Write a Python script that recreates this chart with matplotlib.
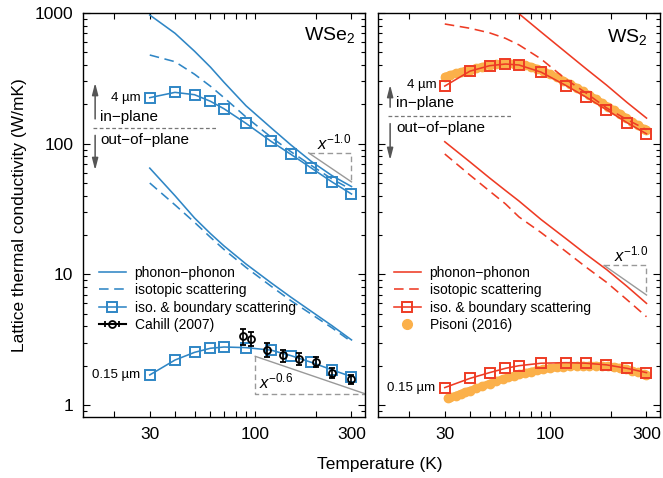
import matplotlib
matplotlib.use('Agg')
import matplotlib.pyplot as plt
import numpy as np

plt.rcParams['font.family'] = ['Liberation Sans', 'DejaVu Sans']
plt.rcParams['mathtext.fontset'] = 'custom'
plt.rcParams['mathtext.rm'] = 'Liberation Sans'
plt.rcParams['mathtext.it'] = 'Liberation Sans:italic'
plt.rcParams['axes.linewidth'] = 1.0

azul = '#2f86c5'
rojo = '#ee3b24'
naranja = '#fbb04a'
gris = '#555555'

# temperaturas de calculo (K)
T = [30, 40, 50, 60, 70, 90, 120, 150, 190, 240, 300]

# WSe2, kappa en W/mK
wse2_pp_4um = [965, 700, 510, 385, 295, 195, 132, 98, 73, 57, 47]
wse2_iso_4um = [477, 424, 340, 275, 225, 160, 112, 87, 68, 53.7, 44.5]
wse2_bnd_4um = [225, 247, 237, 211, 185, 143, 104, 83, 65, 51, 41.2]
wse2_pp_015 = [65, 40, 27, 20.5, 16.5, 12, 8.6, 6.7, 5.2, 4.05, 3.15]
wse2_iso_015 = [50, 34, 25, 19.2, 15.5, 11.3, 8.1, 6.3, 4.95, 3.9, 3.05]
wse2_bnd_015 = [1.70, 2.21, 2.53, 2.72, 2.78, 2.75, 2.63, 2.39, 2.12, 1.86, 1.65]

cahill_T = [87, 95, 114.5, 137.5, 165, 199, 239.5, 300]
cahill_k = [3.36, 3.21, 2.65, 2.40, 2.26, 2.14, 1.76, 1.57]
cahill_err = [0.48, 0.40, 0.33, 0.26, 0.24, 0.19, 0.16, 0.13]

# WS2
ws2_pp_4um = [2860, 1990, 1510, 1200, 987, 716, 498, 376, 281, 207, 157]
ws2_iso_4um = [824, 764, 705, 640, 570, 445, 310, 245, 188, 153, 128]
ws2_bnd_4um = [276, 359, 395, 407, 400, 353, 278, 228, 182, 145, 119]
ws2_pp_015 = [103.5, 72.5, 54.7, 43.8, 36.4, 26.3, 18.7, 14.3, 10.9, 8.1, 6.0]
ws2_iso_015 = [83.4, 57.5, 43.4, 34.6, 27.5, 20.9, 14.9, 11.4, 8.7, 6.4, 4.74]
ws2_bnd_015 = [1.36, 1.60, 1.77, 1.91, 2.00, 2.09, 2.11, 2.09, 2.03, 1.91, 1.77]

pisoni_T_a = [30, 32, 34, 36, 38, 40, 43, 46, 50, 54, 58, 62, 66, 70, 75, 80, 86, 92,
              100, 108, 116, 125, 135, 145, 156, 168, 180, 193, 207, 222, 238, 255, 272, 290, 300]
pisoni_k_a = [326, 336, 345, 353, 360, 366, 378, 388, 398, 405, 409, 411, 410, 406, 399, 389, 375, 360,
              340, 322, 304, 286, 268, 251, 235, 220, 205, 192, 180, 169, 157, 147, 138, 130, 127]
pisoni_T_b = [31, 32, 34, 36, 38, 40, 43, 46, 50, 54, 58, 62, 66, 70, 75, 80, 86, 92,
              100, 108, 116, 125, 135, 145, 156, 168, 180, 193, 207, 222, 238, 255, 272, 290, 300]
pisoni_k_b = [1.13, 1.15, 1.18, 1.22, 1.26, 1.29, 1.34, 1.39, 1.46, 1.52, 1.58, 1.63, 1.68, 1.72, 1.76, 1.80, 1.84, 1.88,
              1.91, 1.94, 1.96, 1.98, 1.99, 2.00, 2.00, 2.00, 1.99, 1.98, 1.96, 1.93, 1.89, 1.83, 1.78, 1.72, 1.70]

estilo_guion = (0, (6, 3.5))
lw = 1.15


def ejes(ax, etiquetas_y):
    ax.set_xscale('log')
    ax.set_yscale('log')
    ax.set_xlim(14, 350)
    ax.set_xticks([30, 100, 300])
    ax.set_xticklabels(['30', '100', '300'])
    ax.set_xticks([20, 40, 50, 60, 70, 80, 90, 200], minor=True)
    ax.set_yticks([1, 10, 100, 1000])
    ax.set_yticks([j * 10.0**i for i in range(-1, 3) for j in range(2, 10)], minor=True)
    if etiquetas_y:
        ax.set_yticklabels(['1', '10', '100', '1000'])
    else:
        ax.set_yticklabels([])
    ax.set_ylim(0.81, 1000)
    ax.tick_params(which='both', direction='in', top=True, right=True, labelsize=12.5, width=0.8)
    ax.tick_params(axis='y', which='major', length=5)
    ax.tick_params(axis='y', which='minor', length=3)
    ax.tick_params(axis='x', which='both', length=4.5, pad=7)
    ax.tick_params(axis='y', pad=7)


def flechas(ax, y_linea, y_arriba, y_abajo, x_txt, y_in, y_out):
    ax.annotate('', xy=(0.043, y_arriba), xytext=(0.043, y_linea + 0.015), xycoords='axes fraction',
                arrowprops=dict(arrowstyle='-|>,head_length=0.7,head_width=0.18', color=gris, lw=1.1))
    ax.annotate('', xy=(0.043, y_abajo), xytext=(0.043, y_linea - 0.012), xycoords='axes fraction',
                arrowprops=dict(arrowstyle='-|>,head_length=0.7,head_width=0.18', color=gris, lw=1.1))
    ax.plot([0.035, 0.48], [y_linea, y_linea], transform=ax.transAxes, ls=(0, (3, 2)), color='#777777', lw=0.9)
    ax.text(x_txt, y_in, 'in−plane', transform=ax.transAxes, fontsize=11, va='center', ha='left')
    ax.text(x_txt, y_out, 'out−of−plane', transform=ax.transAxes, fontsize=11, va='center', ha='left')


def pendiente(ax, t0, t1, k_arr, k_ab, abajo_izq):
    # triangulo guia de pendiente
    if abajo_izq:
        ax.plot([t0, t0, t1], [k_arr, k_ab, k_ab], ls=(0, (4, 2.5)), color='#999999', lw=1.0)
    else:
        ax.plot([t0, t1, t1], [k_arr, k_arr, k_ab], ls=(0, (4, 2.5)), color='#999999', lw=1.0)
    ax.plot([t0, t1], [k_arr, k_ab], color='#999999', lw=1.0)


def leyenda(ax):
    ax.legend(loc='upper left', bbox_to_anchor=(0.055, 0.374), frameon=False, fontsize=10,
              handlelength=2.0, handletextpad=0.6, labelspacing=0.24, borderpad=0, borderaxespad=0)


fig = plt.figure(figsize=(6.63, 4.78), dpi=100)
ax1 = fig.add_axes([83 / 663, 61 / 478, 282 / 663, 404 / 478])
ax2 = fig.add_axes([378 / 663, 61 / 478, 282 / 663, 404 / 478])

# ---- WSe2 ----
ax1.plot(T, wse2_pp_4um, color=azul, lw=lw, label='phonon−phonon')
ax1.plot(T, wse2_iso_4um, color=azul, lw=lw, ls=estilo_guion, label='isotopic scattering')
ax1.plot(T, wse2_bnd_4um, color=azul, lw=lw, marker='s', ms=7, mfc='none', mew=1.4,
         label='iso. & boundary scattering')
ax1.plot(T, wse2_pp_015, color=azul, lw=lw)
ax1.plot(T, wse2_iso_015, color=azul, lw=lw, ls=estilo_guion)
ax1.plot(T, wse2_bnd_015, color=azul, lw=lw, marker='s', ms=7, mfc='none', mew=1.4)
ax1.errorbar(cahill_T, cahill_k, yerr=cahill_err, fmt='o', color='k', ms=5, mfc='none', mew=1.3,
             elinewidth=1.2, capsize=2, capthick=1.2, zorder=5)
ax1.errorbar([np.nan], [np.nan], xerr=[1], fmt='-o', color='k', ms=5, mfc='none', mew=1.3,
             elinewidth=1.2, capsize=2.5, capthick=1.2, label='Cahill (2007)')

pendiente(ax1, 184, 300, 85, 51, False)
ax1.text(203, 86, '$\\mathit{x^{-1.0}}$', fontsize=12, va='bottom', ha='left')
pendiente(ax1, 100, 350, 2.36, 1.22, True)
ax1.text(104, 1.33, '$\\mathit{x^{-0.6}}$', fontsize=12, va='baseline', ha='left')

flechas(ax1, 0.716, 0.834, 0.604, 0.060, 0.742, 0.686)
ax1.text(0.203, 0.790, '4 µm', transform=ax1.transAxes, fontsize=9.5, va='center', ha='right')
ax1.text(0.203, 0.104, '0.15 µm', transform=ax1.transAxes, fontsize=9.5, va='center', ha='right')
ax1.text(0.965, 0.946, 'WSe$_2$', transform=ax1.transAxes, fontsize=14, va='center', ha='right')
leyenda(ax1)
ejes(ax1, True)

# ---- WS2 ----
ax2.plot(pisoni_T_a, pisoni_k_a, color=naranja, lw=5.5, solid_capstyle='round', zorder=1)
ax2.plot(pisoni_T_a, pisoni_k_a, 'o', color=naranja, ms=6, zorder=1)
ax2.plot(pisoni_T_b, pisoni_k_b, color=naranja, lw=5.5, solid_capstyle='round', zorder=1)
ax2.plot(pisoni_T_b, pisoni_k_b, 'o', color=naranja, ms=6, zorder=1)

ax2.plot(T, ws2_pp_4um, color=rojo, lw=lw, label='phonon−phonon')
ax2.plot(T, ws2_iso_4um, color=rojo, lw=lw, ls=estilo_guion, label='isotopic scattering')
ax2.plot(T, ws2_bnd_4um, color=rojo, lw=lw, marker='s', ms=7, mfc='none', mew=1.4,
         label='iso. & boundary scattering')
ax2.plot(T, ws2_pp_015, color=rojo, lw=lw)
ax2.plot(T, ws2_iso_015, color=rojo, lw=lw, ls=estilo_guion)
ax2.plot(T, ws2_bnd_015, color=rojo, lw=lw, marker='s', ms=7, mfc='none', mew=1.4)
ax2.plot([], [], 'o', color=naranja, ms=7, label='Pisoni (2016)')

pendiente(ax2, 185, 300, 11.7, 6.95, False)
ax2.text(208, 11.9, '$\\mathit{x^{-1.0}}$', fontsize=12, va='bottom', ha='left')

flechas(ax2, 0.745, 0.829, 0.629, 0.064, 0.777, 0.715)
ax2.text(0.209, 0.822, '4 µm', transform=ax2.transAxes, fontsize=9.5, va='center', ha='right')
ax2.text(0.202, 0.072, '0.15 µm', transform=ax2.transAxes, fontsize=9.5, va='center', ha='right')
ax2.text(0.957, 0.941, 'WS$_2$', transform=ax2.transAxes, fontsize=14, va='center', ha='right')
leyenda(ax2)
ejes(ax2, False)

fig.text(20 / 663, 1 - 215 / 478, 'Lattice thermal conductivity (W/mK)', rotation=90,
         fontsize=12.5, ha='center', va='center')
fig.text(380 / 663, 1 - 465 / 478, 'Temperature (K)', fontsize=12.5, ha='center', va='center')

fig.savefig('out.png', dpi=100)
